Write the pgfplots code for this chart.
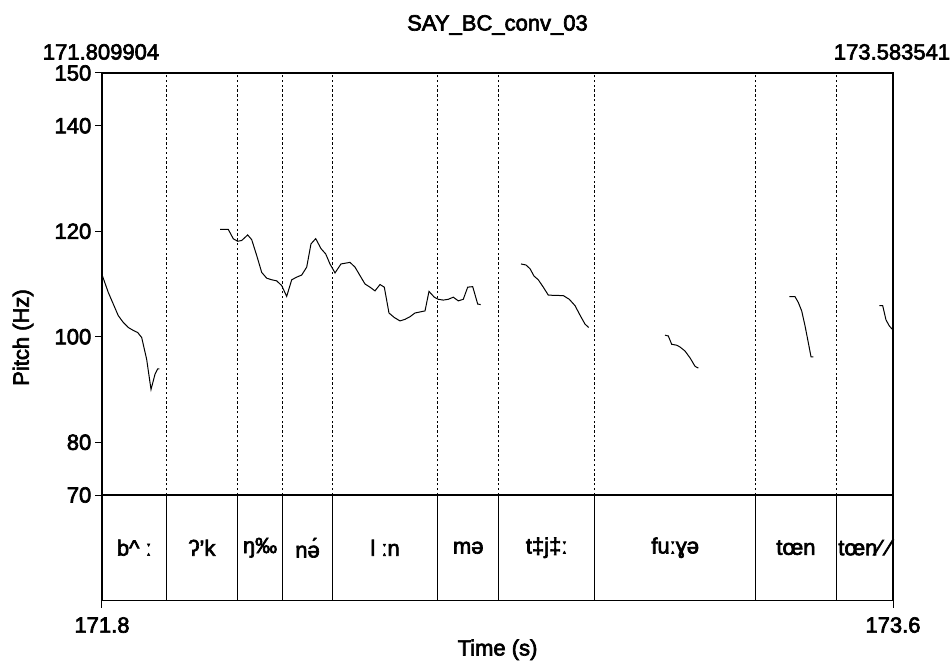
\documentclass[border=0pt]{standalone}
\usepackage{fontspec}
\setmainfont{Liberation Sans}[RawFeature={embolden=3}]
\usepackage{pgfplots}
\pgfplotsset{compat=1.18}

\begin{document}
\fontsize{11}{13}\selectfont
\begin{tikzpicture}
% 1px = 0.5pt, origin = lower left of the frame
\path[use as bounding box] (-51pt,-32pt) rectangle (425pt,300.25pt);
\begin{axis}[
    at={(0,0)}, anchor=south west,
    scale only axis, width=395.5pt, height=263.75pt,
    xmin=171.809904, xmax=173.583541,
    ymin=50, ymax=150,
    axis line style={line width=0.6pt},
    xtick={171.809904,173.583541}, xticklabels={171.8,173.6},
    ytick={70,80,100,120,140,150},
    tick align=outside, major tick length=3.5pt,
    xtick pos=bottom, ytick pos=left,
    tick style={black, line width=0.5pt},
    ticklabel style={font=\fontsize{11}{13}\selectfont},
    yticklabel style={xshift=2pt},
    xticklabel style={yshift=-1pt},
    /pgf/number format/assume math mode=true,
    clip=false,
]
% tier separator
\draw[line width=0.6pt] (axis cs:171.809904,70) -- (axis cs:173.583541,70);
% interval boundaries
\pgfplotsinvokeforeach{171.9546,172.1135,172.2149,172.3266,172.5626,172.6995,172.9145,173.2757,173.4561}{
    \draw[line width=0.45pt, dash pattern=on 1.2pt off 1.2pt] (axis cs:#1,70) -- (axis cs:#1,150);
    \draw[line width=0.45pt] (axis cs:#1,50) -- (axis cs:#1,70);
}
% tier labels
\node at (axis cs:171.8823,60) {b\textasciicircum{} ː};
\node at (axis cs:172.0341,60) {ʔ'k};
\node at (axis cs:172.1642,60) {ŋ‰};
\node at (axis cs:172.2708,60) {nə́};
\node at (axis cs:172.4446,60) {l ːn};
\node at (axis cs:172.6311,60) {mə};
\node at (axis cs:172.8070,60) {t‡j‡ː};
\node at (axis cs:173.0951,60) {fuːɣə};
\node at (axis cs:173.3659,60) {tœn};
\node at (axis cs:173.5198,60) {tœn⁄ ⁄};

% pitch contour
\addplot[black, line width=0.5pt] coordinates {
(171.8106,111.6) (171.8240,108.4) (171.8352,106.2) (171.8464,104.0) (171.8577,102.7)
(171.8689,101.75) (171.8801,101.2) (171.8900,100.8) (171.8989,99.85) (171.9101,95.7)
(171.9198,90.0) (171.9288,92.9) (171.9348,93.9) (171.9384,93.9)
};
\addplot[black, line width=0.5pt] coordinates {
(172.0745,120.35) (172.0931,120.35) (172.1043,118.57) (172.1142,118.1) (172.1231,118.25)
(172.1366,119.3) (172.1456,118.4) (172.1568,115.4) (172.1680,112.2) (172.1792,111.1)
(172.1904,110.8) (172.2016,110.6) (172.2128,109.7) (172.2240,107.65) (172.2353,110.8)
(172.2465,111.3) (172.2577,111.7) (172.2689,113.2) (172.2785,117.6) (172.2891,118.6)
(172.3010,116.7) (172.3115,115.7) (172.3211,113.8) (172.3324,112.1) (172.3458,113.8)
(172.3660,114.1) (172.3772,113.2) (172.3884,111.6) (172.3996,110.0) (172.4108,109.4)
(172.4220,108.7) (172.4333,109.9) (172.4429,109.4) (172.4534,104.5) (172.4653,103.65)
(172.4781,103.0) (172.4893,103.3) (172.5005,103.8) (172.5117,104.5) (172.5229,104.7)
(172.5342,104.9) (172.5431,108.6) (172.5550,107.5) (172.5640,107.1) (172.5752,106.95)
(172.5864,107.1) (172.5976,107.5) (172.6088,106.8) (172.6200,107.1) (172.6299,109.4)
(172.6411,109.5) (172.6523,106.2) (172.6590,106.1)
};
\addplot[black, line width=0.5pt] coordinates {
(172.7494,113.8) (172.7606,113.6) (172.7696,112.9) (172.7786,111.5) (172.7882,110.8)
(172.7994,109.4) (172.8106,107.9) (172.8218,107.85) (172.8443,107.8) (172.8577,107.1)
(172.8705,105.9) (172.8817,104.1) (172.8929,102.4) (172.9012,101.75)
};
\addplot[black, line width=0.5pt] coordinates {
(173.0723,100.3) (173.0797,100.15) (173.0873,98.57) (173.0985,98.4) (173.1059,98.06)
(173.1171,97.3) (173.1284,96.0) (173.1396,94.4) (173.1470,94.06)
};
\addplot[black, line width=0.5pt] coordinates {
(173.3510,107.6) (173.3638,107.6) (173.3712,106.5) (173.3788,104.9) (173.3862,102.1)
(173.3936,98.9) (173.3997,96.2) (173.4048,96.2)
};
\addplot[black, line width=0.5pt] coordinates {
(173.5528,105.9) (173.5604,105.9) (173.5678,103.2) (173.5752,102.06) (173.5820,101.4)
};
\end{axis}
% title, range labels, axis labels
\node[anchor=base] at (197.75pt,285pt) {SAY\_BC\_conv\_03};
\node[anchor=base] at (-0.5pt,270.5pt) {171.809904};
\node[anchor=base] at (395pt,270.5pt) {173.583541};
\node[rotate=90] at (-39.5pt,131.5pt) {Pitch (Hz)};
\node[anchor=base] at (197.75pt,-27.5pt) {Time (s)};
\end{tikzpicture}
\end{document}
